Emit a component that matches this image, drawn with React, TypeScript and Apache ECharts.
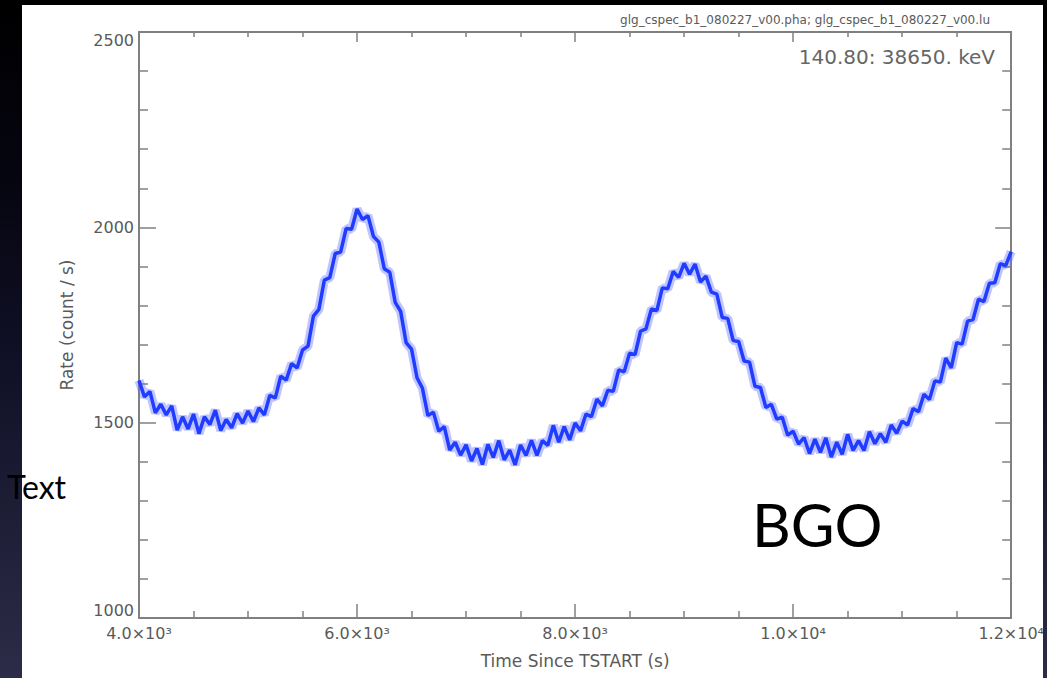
import React, { useEffect, useRef } from "react";
import * as echarts from "echarts";

const TIME_START = 4000;
const TIME_STEP = 50;

const rates = [
  1608, 1566, 1580, 1525, 1547, 1520, 1543, 1481, 1515, 1484, 1522, 1472, 1515, 1495, 1532, 1480, 1508, 1487, 1523, 1499, 1530,
  1503, 1538, 1520, 1570, 1563, 1619, 1609, 1651, 1640, 1686, 1696, 1773, 1790, 1865, 1871, 1933, 1937, 1997, 1995, 2047,
  2020, 2030, 1977, 1962, 1894, 1885, 1808, 1785, 1705, 1688, 1615, 1588, 1518, 1527, 1478, 1490, 1430, 1450, 1417, 1443,
  1402, 1434, 1393, 1444, 1411, 1454, 1405, 1430, 1392, 1443, 1416, 1455, 1416, 1454, 1442, 1493, 1450, 1490, 1456, 1499,
  1479, 1522, 1515, 1560, 1543, 1583, 1580, 1635, 1630, 1678, 1674, 1734, 1740, 1791, 1787, 1845, 1843, 1887, 1872, 1908,
  1880, 1906, 1860, 1875, 1834, 1829, 1769, 1767, 1710, 1708, 1658, 1655, 1593, 1590, 1539, 1547, 1509, 1514, 1468, 1478,
  1445, 1462, 1421, 1458, 1424, 1461, 1412, 1450, 1419, 1470, 1429, 1454, 1429, 1477, 1446, 1472, 1450, 1494, 1473, 1504,
  1494, 1536, 1528, 1573, 1559, 1607, 1604, 1665, 1640, 1705, 1701, 1760, 1764, 1816, 1810, 1857, 1858, 1907, 1902, 1938,
];

const xTickValues = [4000, 6000, 8000, 10000, 12000];
const xTickLabels = ["4.0×10³", "6.0×10³", "8.0×10³", "1.0×10⁴", "1.2×10⁴"];
const yTickValues = [1000, 1500, 2000, 2500];

const FONT = "DejaVu Sans";
const AXIS_GRAY = "#808080";
const LABEL_GRAY = "#5a5a5a";

export default function App() {
  const ref = useRef<HTMLDivElement>(null);

  useEffect(() => {
    if (!ref.current) return;
    const chart = echarts.init(ref.current, null, { renderer: "svg" });
    const data = rates.map((r, i) => [TIME_START + i * TIME_STEP, r]);

    const baseAxisLine = { show: true, onZero: false, lineStyle: { color: AXIS_GRAY, width: 2 } };

    chart.setOption({
      animation: false,
      backgroundColor: "transparent",
      grid: { left: 139, top: 32, right: 30, bottom: 60, containLabel: false },
      xAxis: [
        {
          type: "value",
          position: "bottom",
          min: 4000,
          max: 12000,
          interval: 2000,
          axisLine: baseAxisLine,
          axisTick: { show: true, inside: true, length: 14, lineStyle: { color: AXIS_GRAY, width: 1.5 } },
          minorTick: { show: true, splitNumber: 4, length: 7, lineStyle: { color: AXIS_GRAY, width: 1.5 } },
          splitLine: { show: false },
          axisLabel: {
            margin: 7,
            color: LABEL_GRAY,
            fontFamily: FONT,
            fontSize: 16,
            formatter: (v: number) => {
              const idx = xTickValues.indexOf(v);
              return idx >= 0 ? xTickLabels[idx] : "";
            },
          },
          name: "Time Since TSTART (s)",
          nameLocation: "middle",
          nameGap: 34,
          nameTextStyle: { color: LABEL_GRAY, fontFamily: FONT, fontSize: 17 },
        },
        {
          type: "value",
          position: "top",
          min: 4000,
          max: 12000,
          interval: 2000,
          axisLine: baseAxisLine,
          axisTick: { show: true, inside: true, length: 10, lineStyle: { color: AXIS_GRAY, width: 1.5 } },
          minorTick: { show: true, splitNumber: 4, length: 5, lineStyle: { color: AXIS_GRAY, width: 1.5 } },
          splitLine: { show: false },
          axisLabel: { show: false },
        },
      ],
      yAxis: [
        {
          type: "value",
          position: "left",
          min: 1000,
          max: 2500,
          interval: 500,
          axisLine: baseAxisLine,
          axisTick: { show: true, inside: true, length: 17, lineStyle: { color: AXIS_GRAY, width: 1.5 } },
          minorTick: { show: true, splitNumber: 5, length: 9, lineStyle: { color: AXIS_GRAY, width: 1.5 } },
          splitLine: { show: false },
          axisLabel: {
            margin: 5,
            color: LABEL_GRAY,
            fontFamily: FONT,
            fontSize: 16,
            verticalAlignMinLabel: "bottom",
            verticalAlignMaxLabel: "top",
            formatter: (v: number) => (yTickValues.indexOf(v) >= 0 ? String(v) : ""),
          },
          name: "Rate (count / s)",
          nameLocation: "middle",
          nameGap: 64,
          nameTextStyle: { color: LABEL_GRAY, fontFamily: FONT, fontSize: 17 },
        },
        {
          type: "value",
          position: "right",
          min: 1000,
          max: 2500,
          interval: 500,
          axisLine: baseAxisLine,
          axisTick: { show: true, inside: true, length: 16, lineStyle: { color: AXIS_GRAY, width: 1.5 } },
          minorTick: { show: true, splitNumber: 5, length: 9, lineStyle: { color: AXIS_GRAY, width: 1.5 } },
          splitLine: { show: false },
          axisLabel: { show: false },
        },
      ],
      series: [
        {
          type: "line",
          data,
          xAxisIndex: 0,
          yAxisIndex: 0,
          showSymbol: false,
          lineStyle: { color: "rgba(100,110,255,0.4)", width: 9 },
          silent: true,
        },
        {
          type: "line",
          data,
          xAxisIndex: 0,
          yAxisIndex: 0,
          showSymbol: false,
          lineStyle: { color: "#1f3cff", width: 3.5 },
        },
      ],
      graphic: [
        {
          type: "text",
          right: 57,
          top: 14,
          style: {
            text: "glg_cspec_b1_080227_v00.pha; glg_cspec_b1_080227_v00.lu",
            fontFamily: FONT,
            fontSize: 12,
            fill: LABEL_GRAY,
          },
        },
        {
          type: "text",
          right: 52,
          top: 47,
          style: { text: "140.80: 38650. keV", fontFamily: FONT, fontSize: 20, fill: "#666" },
        },
        {
          type: "text",
          left: 752,
          top: 494,
          style: { text: "BGO", fontFamily: "Lato", fontSize: 60, fill: "#000" },
        },
        {
          type: "text",
          left: 7,
          top: 470,
          style: { text: "Text", fontFamily: "Lato", fontSize: 32, fill: "#000" },
        },
      ],
    });

    return () => chart.dispose();
  }, []);

  return (
    <div
      style={{
        position: "fixed",
        left: 0,
        top: 0,
        width: 1047,
        height: 678,
        overflow: "hidden",
        background: "linear-gradient(180deg, #000000 0%, #05050f 25%, #111128 55%, #2c2c48 100%)",
      }}
    >
      <div style={{ position: "absolute", left: 22, top: 5, width: 1021, height: 673, background: "#ffffff" }} />
      <div ref={ref} style={{ position: "absolute", left: 0, top: 0, width: 1047, height: 678 }} />
      <div
        style={{
          position: "absolute",
          left: 1043,
          top: 0,
          width: 4,
          height: 678,
          background: "linear-gradient(180deg, #000000 0%, #05050f 25%, #111128 55%, #2c2c48 100%)",
        }}
      />
    </div>
  );
}
